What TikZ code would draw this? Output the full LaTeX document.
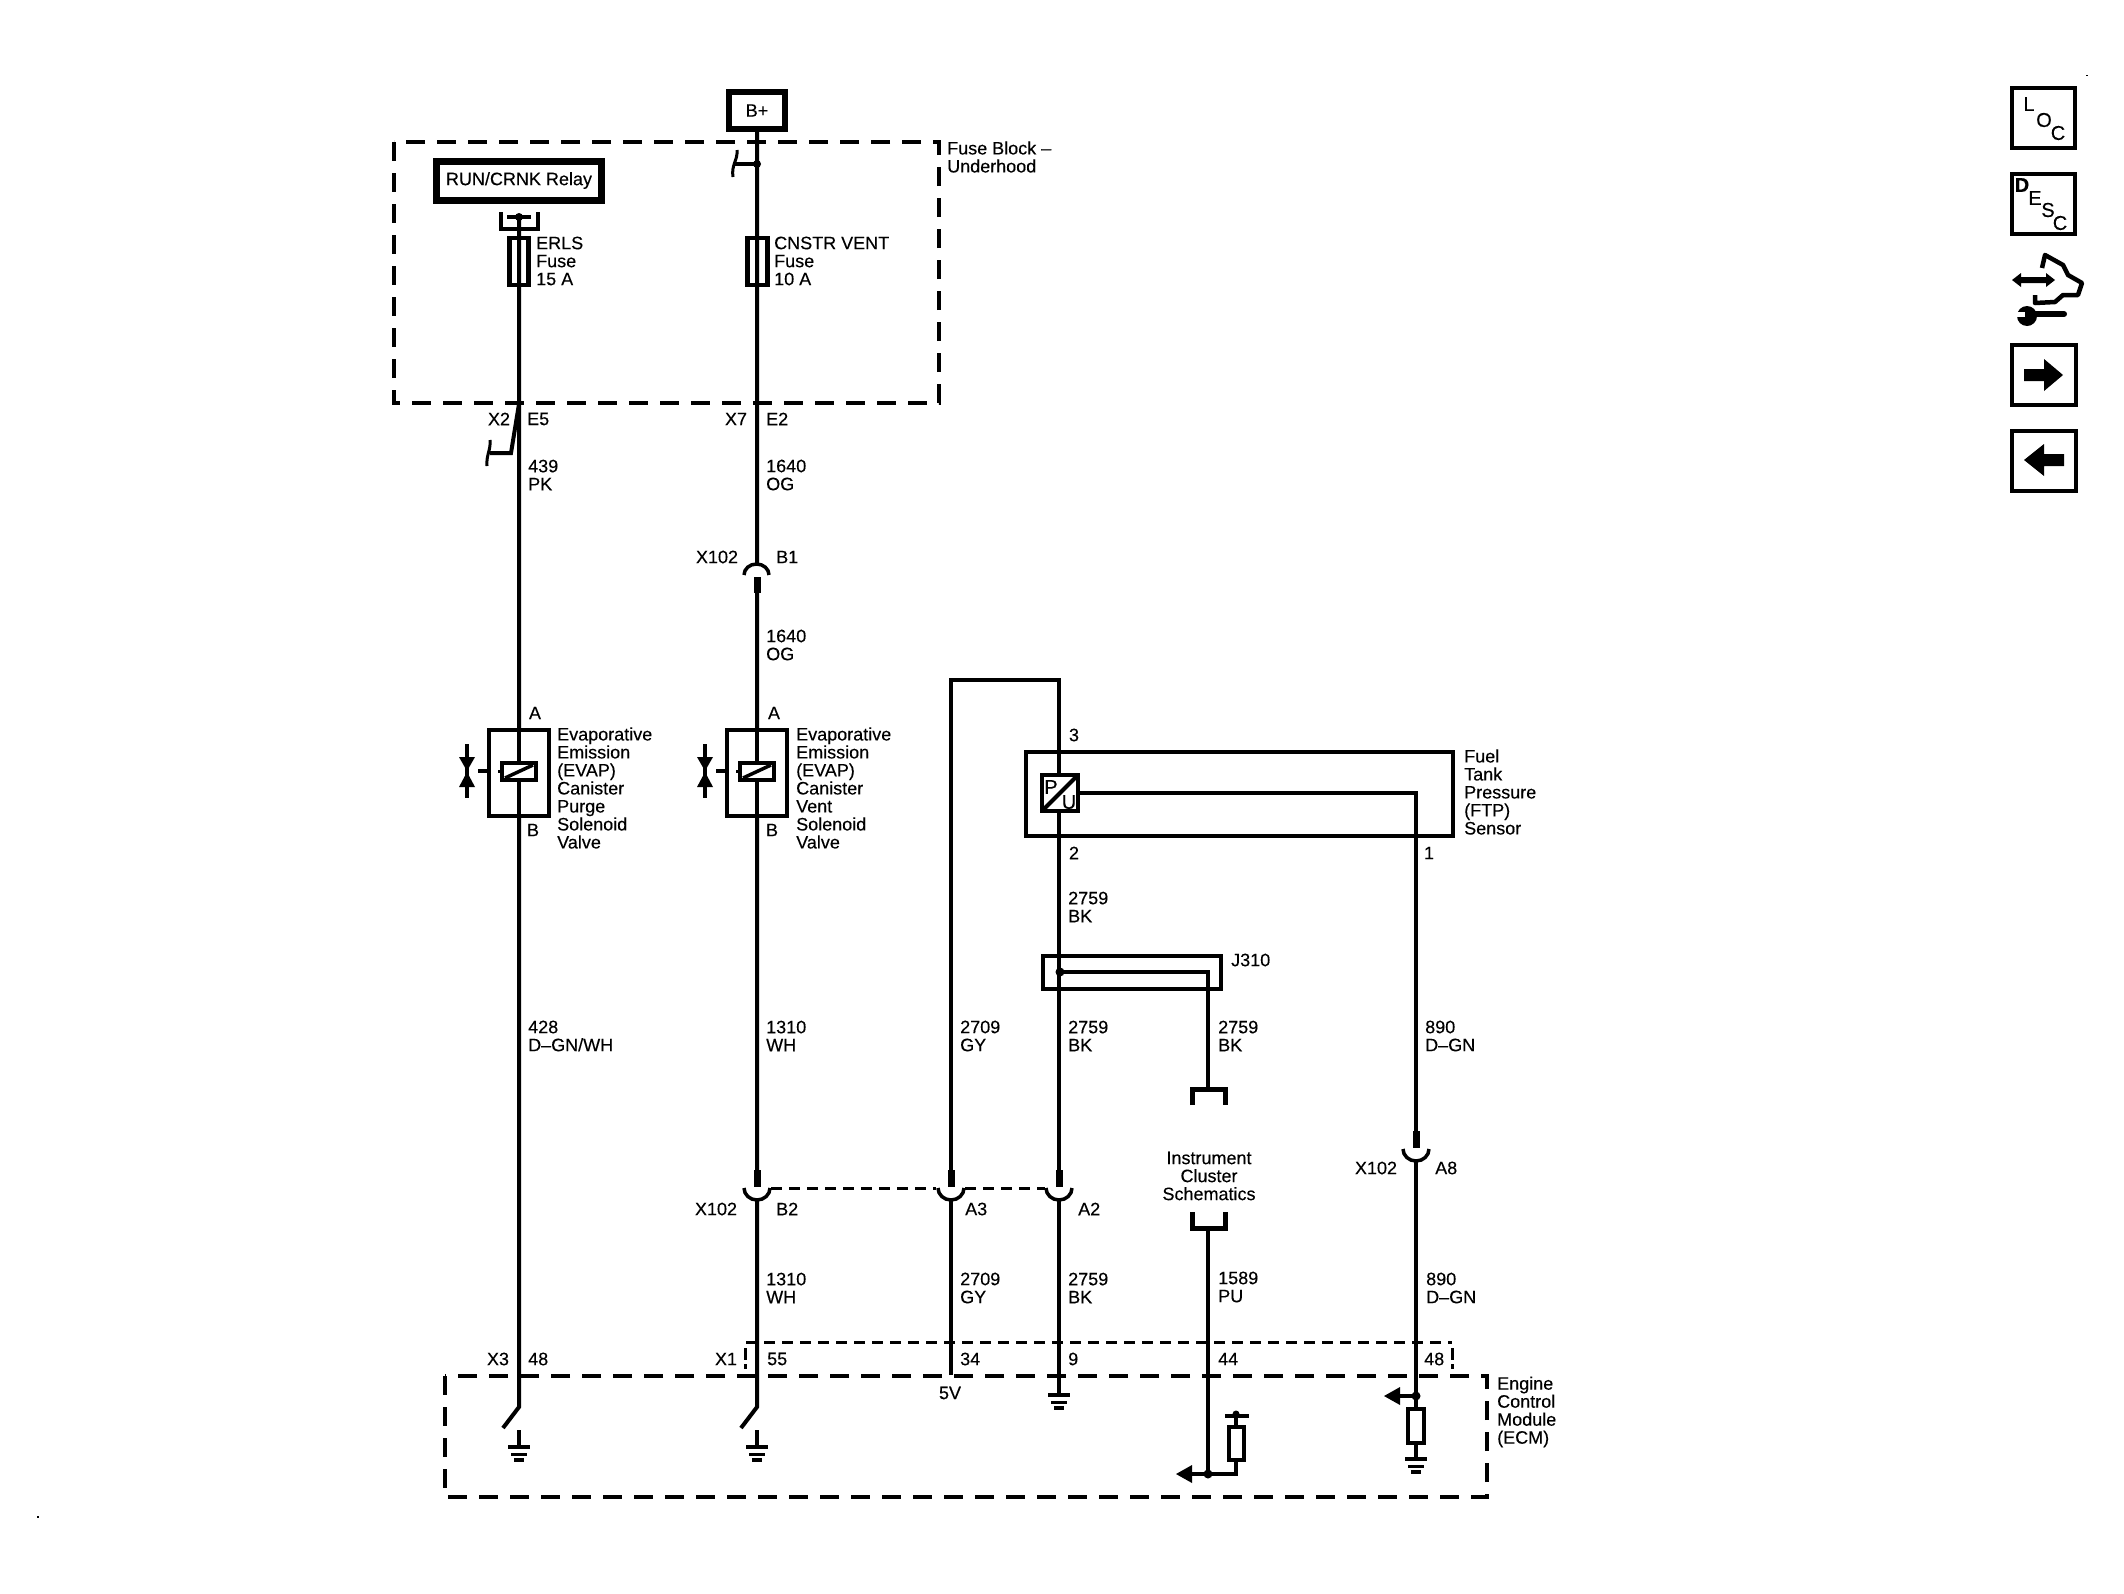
\documentclass[tikz,border=0pt]{standalone}
\usepackage{fontspec}
\setmainfont[FakeBold=0.25]{Liberation Sans}
\tikzset{
  wire/.style={line width=4pt,line cap=butt,line join=miter},
  box/.style={draw,line width=4pt},
  thickbox/.style={draw,line width=7pt},
  dbox/.style={draw,line width=4.5pt,dash pattern=on 19pt off 12pt},
  dthin/.style={line width=3pt,dash pattern=on 11pt off 7pt},
  lbl/.style={anchor=west,inner sep=0pt,font=\fontsize{18}{18}\selectfont,align=left},
  clbl/.style={anchor=center,inner sep=0pt,font=\fontsize{18}{18}\selectfont,align=center},
  iconl/.style={anchor=center,inner sep=0pt,font=\fontsize{20}{20}\selectfont},
  jdot/.style={circle,fill,inner sep=0pt,minimum size=9pt},
}
\newcommand{\gndsym}[2]{% x, y of top bar
  \fill (#1-11,#2-2) rectangle (#1+11,#2+2);
  \fill (#1-8,#2+6) rectangle (#1+8,#2+9);
  \fill (#1-5,#2+11) rectangle (#1+5,#2+15);
}
\newcommand{\lowconn}[2]{% x,y of dashed level: stub above, cup below
  \fill[white] (#1-4,#2-2) rectangle (#1+4,#2+10);
  \fill (#1-3.5,#2-18) rectangle (#1+3.5,#2-1);
  \draw[line width=3.5pt] (#1-13,#2) arc[start angle=180,end angle=0,x radius=13,y radius=12];
}
\begin{document}
\begin{tikzpicture}[x=1pt,y=-1pt]
\useasboundingbox (0,0) rectangle (2124,1593);
\fill[white] (0,0) rectangle (2124,1593);

% --- dashed module boxes
\draw[dbox] (394,142) rectangle (939,403);
\draw[dbox] (445,1376) rectangle (1487,1497);
\node[lbl] (fblbl) at (947,157) {Fuse Block –\\Underhood};
\node[lbl] (ecmlbl) at (1497,1412) {Engine\\Control\\Module\\(ECM)};

% --- B+ and relay
\node[thickbox,minimum width=56pt,minimum height=37pt,inner sep=0pt,line width=6pt,font=\fontsize{18}{18}\selectfont] (bplus) at (757,110.5) {B+};
\node[thickbox,minimum width=165pt,minimum height=39pt,inner sep=0pt,font=\fontsize{18}{18}\selectfont] (relay) at (519,180.5) {RUN/CRNK Relay};

% --- relay socket
\draw[line width=4pt] (500.5,212) -- (500.5,229) -- (537.5,229) -- (537.5,212);
\draw[line width=4pt] (507,217) -- (531,217);
\node[jdot,minimum size=8pt] (rdot) at (519,217) {};

% --- left wire
\coordinate (la) at (519,217);
\coordinate (lsw) at (519,1407);
\draw[wire] (la) -- (lsw) -- (503,1428);
\draw[wire] (519,404) -- (511,453) -- (490,453);
\draw[line width=3pt] (490,440) .. controls (491,450) and (486,455) .. (487,466);

% --- middle wire
\coordinate (ma) at (757,131);
\coordinate (msw) at (757,1407);
\draw[wire] (ma) -- (msw) -- (741,1428);
\draw[wire] (757,164) -- (733,164);
\draw[line width=3pt] (737,150) .. controls (738,160) and (731,165) .. (733,177);
\node[jdot,minimum size=8pt] (mdot) at (757,164) {};

% --- fuses
\draw[line width=4.5pt] (509.5,238) rectangle (528.5,285);
\draw[line width=4.5pt] (747.5,238) rectangle (767.5,285);
\node[lbl] (f1) at (536,261) {ERLS\\Fuse\\15 A};
\node[lbl] (f2) at (774,261) {CNSTR VENT\\Fuse\\10 A};

% --- connector labels at fuse block
\node[clbl] (x2) at (499,419) {X2};
\node[lbl] (e5) at (527,419) {E5};
\node[clbl] (x7) at (736,419) {X7};
\node[lbl] (e2) at (766,419) {E2};
\node[lbl] (w1) at (528,475) {439\\PK};
\node[lbl] (w2) at (766,475) {1640\\OG};

% --- X102 B1
\node[clbl] (x102a) at (717,557) {X102};
\node[lbl] (b1) at (776,557) {B1};
\fill[white] (752,565) rectangle (762,577);
\draw[line width=3.5pt] (744,575) arc[start angle=180,end angle=360,x radius=12.5,y radius=11];
\fill (753.5,577) rectangle (760.5,593);
\node[lbl] (w3) at (766,645) {1640\\OG};

% --- solenoids
\foreach \bx in {519,757}{
  \draw[line width=4pt,fill=white] (\bx-30,730) rectangle (\bx+30,816);
  \draw[wire] (\bx,729) -- (\bx,816);
  \draw[line width=4pt,fill=white] (\bx-17,763) rectangle (\bx+17,780);
  \draw[line width=3.5pt] (\bx-14,778) -- (\bx+14,765);
  \draw[line width=4pt] (\bx-41,771) -- (\bx-31,771);
  \draw[line width=3pt] (\bx-21,771) -- (\bx-18,771);
  \draw[line width=4pt] (\bx-52,744) -- (\bx-52,798);
  \fill (\bx-60,757) -- (\bx-44,757) -- (\bx-52,771) -- cycle;
  \fill (\bx-60,787) -- (\bx-44,787) -- (\bx-52,772) -- cycle;
}
\node[clbl] (aa) at (535,713) {A};
\node[clbl] (ab) at (533,830) {B};
\node[clbl] (ba) at (774,713) {A};
\node[clbl] (bb) at (772,830) {B};
\node[lbl] (sl1) at (557,788) {Evaporative\\Emission\\(EVAP)\\Canister\\Purge\\Solenoid\\Valve};
\node[lbl] (sl2) at (796,788) {Evaporative\\Emission\\(EVAP)\\Canister\\Vent\\Solenoid\\Valve};

% --- wire labels
\node[lbl] (w4) at (528,1036) {428\\D–GN/WH};
\node[lbl] (w5) at (766,1036) {1310\\WH};
\node[lbl] (w6) at (960,1036) {2709\\GY};
\node[lbl] (w7) at (1068,1036) {2759\\BK};
\node[lbl] (w8) at (1218,1036) {2759\\BK};
\node[lbl] (w9) at (1425,1036) {890\\D–GN};
\node[lbl] (w10) at (1068,907) {2759\\BK};

% --- FTP sensor
\draw[line width=4pt] (1026,752) rectangle (1453,836);
\draw[wire] (951,1375) -- (951,680) -- (1059,680) -- (1059,1375);
\draw[line width=4pt,fill=white] (1042,775) rectangle (1078,811);
\draw[line width=4pt] (1042,811) -- (1078,775);
\node[clbl,font=\fontsize{20}{20}\selectfont] (pp) at (1051,787) {P};
\node[clbl,font=\fontsize{20}{20}\selectfont] (uu) at (1069,802) {U};
\draw[wire] (1078,793) -- (1416,793) -- (1416,1396);
\node[clbl] (p3) at (1074,735) {3};
\node[clbl] (p2) at (1074,853) {2};
\node[clbl] (p1) at (1429,853) {1};
\node[lbl] (ftp) at (1464,792) {Fuel\\Tank\\Pressure\\(FTP)\\Sensor};

% --- J310
\draw[line width=4pt] (1043,956) rectangle (1221,989);
\draw[wire] (1060,972) -- (1208,972) -- (1208,1089);
\node[jdot] (jd) at (1060,972) {};
\node[lbl] (j310) at (1231,960) {J310};

% --- Instrument cluster
\draw[line width=5pt] (1192,1105) -- (1192,1089) -- (1225,1089) -- (1225,1105);
\node[clbl] (ics) at (1209,1176) {Instrument\\Cluster\\Schematics};
\draw[line width=5pt] (1192,1212) -- (1192,1228) -- (1225,1228) -- (1225,1212);
\draw[wire] (1208,1228) -- (1208,1474);
\draw[wire] (1236,1474) -- (1190,1474);
\fill (1192,1465) -- (1192,1483) -- (1176,1474) -- cycle;
\node[jdot] (icd) at (1208,1474) {};
\draw[wire] (1236,1476) -- (1236,1416);
\draw[line width=4pt,fill=white] (1229,1427) rectangle (1244,1460);
\draw[wire] (1225,1416) -- (1249,1416);
\node[jdot,minimum size=7pt] (icd2) at (1236,1414) {};

% --- low connectors + dashes
\draw[dthin] (771,1188) -- (936,1188);
\draw[dthin] (965,1188) -- (1045,1188);
\lowconn{757}{1188}
\lowconn{951}{1188}
\lowconn{1059}{1188}
\lowconn{1416}{1149}
\node[clbl] (x102b) at (716,1209) {X102};
\node[lbl] (b2) at (776,1209) {B2};
\node[lbl] (a3) at (965,1209) {A3};
\node[lbl] (a2) at (1078,1209) {A2};
\node[clbl] (x102c) at (1376,1168) {X102};
\node[lbl] (a8) at (1435,1168) {A8};
\node[lbl] (w11) at (766,1288) {1310\\WH};
\node[lbl] (w12) at (960,1288) {2709\\GY};
\node[lbl] (w13) at (1068,1288) {2759\\BK};
\node[lbl] (w14) at (1218,1287) {1589\\PU};
\node[lbl] (w15) at (1426,1288) {890\\D–GN};

% --- shield dashed line
\draw[dthin] (746,1342) -- (1452,1342);
\draw[line width=3pt] (745,1348) -- (745,1360) (745,1364) -- (745,1369);
\draw[line width=3pt] (1452,1348) -- (1452,1360) (1452,1364) -- (1452,1369);
\node[clbl] (x3) at (498,1359) {X3};
\node[lbl] (p48) at (528,1359) {48};
\node[clbl] (x1) at (726,1359) {X1};
\node[lbl] (p55) at (767,1359) {55};
\node[lbl] (p34) at (960,1359) {34};
\node[lbl] (p9) at (1068,1359) {9};
\node[lbl] (p44) at (1218,1359) {44};
\node[lbl] (p48b) at (1424,1359) {48};
\node[clbl] (v5) at (950,1393) {5V};

% --- grounds
\draw[wire] (519,1430) -- (519,1446);
\gndsym{519}{1447}
\draw[wire] (757,1430) -- (757,1446);
\gndsym{757}{1447}
\draw[wire] (1059,1375) -- (1059,1394);
\gndsym{1059}{1395}

% --- ECM pull-down
\draw[wire] (1416,1396) -- (1400,1396);
\fill (1400,1387) -- (1400,1405) -- (1384,1396) -- cycle;
\node[jdot] (ed) at (1416,1396) {};
\draw[wire] (1416,1396) -- (1416,1458);
\draw[line width=4pt,fill=white] (1408,1409) rectangle (1424,1443);
\gndsym{1416}{1459}

% --- side icons
\draw[line width=3.5pt] (2012,88) rectangle (2075,148);
\node[iconl] (i1) at (2029,104) {L};
\node[iconl] (i2) at (2044,120) {O};
\node[iconl] (i3) at (2058,133) {C};
\draw[line width=3.5pt] (2012,174) rectangle (2075,234);
\node[iconl,font=\fontsize{20}{20}\selectfont\bfseries] (i4) at (2022,185) {D};
\node[iconl] (i5) at (2035,198) {E};
\node[iconl] (i6) at (2048,210) {S};
\node[iconl] (i7) at (2060,223) {C};
\draw[line width=3.5pt] (2012,345) rectangle (2076,405);
\fill (2024,369) -- (2044,369) -- (2044,359) -- (2063,375) -- (2044,391) -- (2044,381) -- (2024,381) -- cycle;
\draw[line width=3.5pt] (2012,431) rectangle (2076,491);
\fill (2064,454) -- (2044,454) -- (2044,444) -- (2024,460) -- (2044,476) -- (2044,466) -- (2064,466) -- cycle;
\draw[line width=4.5pt,line join=round] (2042,268) -- (2045,255) -- (2063,265) -- (2068,275) -- (2082,283) -- (2078,295) -- (2063,295) -- (2055,302) -- (2035,303) -- (2035,295);
\fill (2012,280) -- (2021,273) -- (2021,277) -- (2046,277) -- (2046,273) -- (2055,280) -- (2046,287) -- (2046,283) -- (2021,283) -- (2021,287) -- cycle;
\draw[line width=6pt,line cap=round] (2030,314) -- (2064,314);
\fill (2027,316) circle[radius=10];
\fill[white] (2016,312) rectangle (2025,317);
% --- specks
\fill (37,1516) rectangle (39,1518);
\fill (2086,75) rectangle (2088,76);
\end{tikzpicture}
\end{document}
